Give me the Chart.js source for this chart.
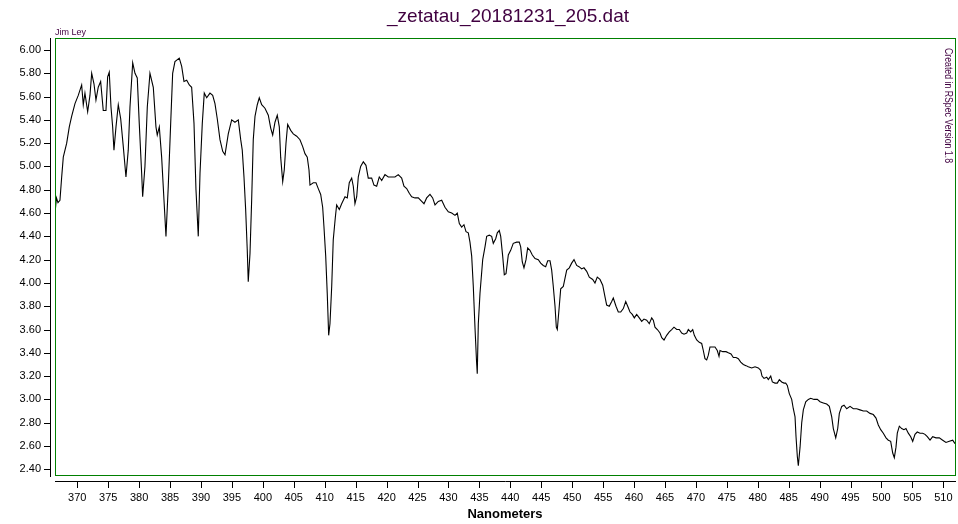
<!DOCTYPE html>
<html>
<head>
<meta charset="utf-8">
<title>_zetatau_20181231_205.dat</title>
<script src="https://cdn.jsdelivr.net/npm/chart.js@4/dist/chart.umd.min.js"></script>
<style>
  html, body { margin: 0; padding: 0; background: #fff; }
  #chart { display: block; }
</style>
</head>
<body>
<canvas id="chart" width="958" height="524"></canvas>
<script>
// --- Data ---
const chartTitle = '_zetatau_20181231_205.dat';
const xAxisTitle = 'Nanometers';
const authorText = 'Jim Ley';
const creditText = 'Created in RSpec Version 1.8';

const xTicks = [370, 375, 380, 385, 390, 395, 400, 405, 410, 415, 420, 425, 430, 435, 440,
    445, 450, 455, 460, 465, 470, 475, 480, 485, 490, 495, 500, 505, 510];
const yTicks = [2.4, 2.6, 2.8, 3.0, 3.2, 3.4, 3.6, 3.8, 4.0, 4.2, 4.4, 4.6, 4.8, 5.0, 5.2,
    5.4, 5.6, 5.8, 6.0];

const wavelengths = [
    366.40, 366.64, 366.88, 367.20, 367.48, 367.74, 368.29, 368.71, 369.09, 369.63,
    370.16, 370.71, 370.97, 371.24, 371.68, 372.05, 372.33, 372.70, 373.02, 373.39,
    373.78, 374.20, 374.64, 374.91, 375.17, 375.45, 375.72, 375.93, 376.26, 376.63,
    377.02, 377.44, 377.87, 378.24, 378.52, 378.96, 379.33, 379.70, 380.02, 380.41,
    380.57, 380.94, 381.32, 381.75, 382.29, 382.72, 382.93, 383.26, 383.64, 384.02,
    384.34, 384.71, 385.10, 385.42, 385.79, 386.49, 386.88, 387.25, 387.69, 388.11,
    388.49, 388.87, 389.19, 389.56, 389.84, 390.21, 390.53, 390.92, 391.45, 391.89,
    392.26, 392.63, 393.07, 393.51, 393.88, 394.41, 394.96, 395.49, 396.03, 396.42,
    396.67, 396.95, 397.22, 397.48, 397.64, 397.92, 398.19, 398.45, 398.73, 399.10,
    399.42, 399.81, 400.34, 400.88, 401.27, 401.59, 401.96, 402.33, 402.66, 402.88,
    403.21, 403.46, 403.74, 404.01, 404.50, 404.92, 405.47, 406.00, 406.44, 406.81,
    407.18, 407.46, 407.62, 408.15, 408.59, 408.96, 409.35, 409.67, 409.88, 410.16,
    410.41, 410.64, 410.85, 411.13, 411.38, 411.71, 411.93, 412.36, 412.74, 413.28,
    413.65, 413.97, 414.36, 414.62, 414.89, 415.17, 415.43, 415.81, 416.24, 416.67,
    417.04, 417.59, 417.96, 418.40, 418.82, 419.21, 419.74, 420.28, 420.83, 421.36,
    421.89, 422.44, 422.81, 423.25, 423.67, 424.06, 424.59, 425.13, 425.68, 426.05,
    426.48, 427.02, 427.45, 427.83, 428.36, 428.91, 429.44, 429.98, 430.53, 431.06,
    431.43, 431.76, 432.14, 432.51, 432.84, 433.21, 433.48, 433.76, 434.02, 434.29,
    434.53, 434.66, 434.83, 435.10, 435.54, 435.91, 436.18, 436.60, 436.99, 437.25,
    437.64, 437.90, 438.22, 438.45, 438.77, 439.03, 439.31, 439.68, 440.06, 440.48,
    441.03, 441.45, 441.68, 441.94, 442.21, 442.54, 442.81, 443.18, 443.56, 444.00,
    444.53, 444.91, 445.33, 445.72, 446.05, 446.42, 446.69, 446.95, 447.23, 447.44,
    447.60, 447.87, 448.15, 448.57, 448.84, 449.12, 449.54, 449.92, 450.30, 450.73,
    451.11, 451.54, 451.91, 452.35, 452.77, 453.32, 453.69, 454.06, 454.50, 454.94,
    455.31, 455.58, 456.00, 456.39, 456.65, 457.09, 457.46, 457.85, 458.27, 458.66,
    458.98, 459.35, 459.72, 460.05, 460.43, 460.85, 461.24, 461.61, 462.05, 462.47,
    462.86, 463.12, 463.39, 463.77, 464.20, 464.48, 464.85, 465.28, 465.70, 466.09,
    466.46, 466.90, 467.32, 467.71, 468.08, 468.52, 468.78, 469.16, 469.49, 469.75,
    470.13, 470.55, 470.94, 471.20, 471.47, 471.75, 472.01, 472.28, 472.72, 473.09,
    473.46, 473.74, 473.90, 474.34, 474.87, 475.24, 475.68, 476.05, 476.49, 476.86,
    477.25, 477.67, 478.10, 478.47, 479.02, 479.56, 480.09, 480.48, 480.69, 481.01,
    481.45, 481.71, 482.10, 482.36, 482.79, 483.16, 483.49, 483.87, 484.25, 484.52,
    484.78, 485.10, 485.49, 485.75, 486.03, 486.19, 486.40, 486.56, 486.84, 487.11,
    487.37, 487.76, 488.18, 488.56, 489.10, 489.63, 490.07, 490.60, 491.15, 491.57,
    491.96, 492.22, 492.61, 492.93, 493.19, 493.58, 493.95, 494.39, 494.92, 495.45,
    496.00, 496.53, 497.07, 497.61, 498.15, 498.68, 499.12, 499.49, 499.88, 500.30,
    500.74, 501.11, 501.49, 501.82, 502.08, 502.35, 502.56, 502.89, 503.27, 503.64,
    503.96, 504.34, 504.73, 505.05, 505.42, 505.79, 506.23, 506.67, 507.04, 507.41,
    507.85, 508.28, 508.82, 509.35, 509.90, 510.43, 510.97, 511.52, 511.89
];

const flux = [
    4.60, 4.73, 4.69, 4.71, 4.91, 5.08, 5.20, 5.34, 5.43, 5.54,
    5.61, 5.70, 5.53, 5.63, 5.47, 5.61, 5.80, 5.71, 5.57, 5.68,
    5.73, 5.48, 5.48, 5.77, 5.81, 5.51, 5.34, 5.14, 5.34, 5.53,
    5.41, 5.17, 4.91, 5.14, 5.51, 5.89, 5.80, 5.76, 5.37, 4.94,
    4.74, 5.00, 5.51, 5.80, 5.68, 5.34, 5.27, 5.34, 5.08, 4.71,
    4.40, 4.83, 5.37, 5.80, 5.90, 5.93, 5.86, 5.73, 5.74, 5.70,
    5.68, 5.37, 4.80, 4.40, 4.94, 5.37, 5.63, 5.59, 5.63, 5.61,
    5.54, 5.41, 5.23, 5.13, 5.10, 5.28, 5.40, 5.38, 5.40, 5.23,
    5.14, 4.91, 4.63, 4.28, 4.01, 4.25, 4.71, 5.23, 5.43, 5.53,
    5.59, 5.53, 5.50, 5.44, 5.33, 5.27, 5.38, 5.44, 5.34, 5.08,
    4.87, 4.97, 5.20, 5.36, 5.31, 5.28, 5.26, 5.23, 5.17, 5.11,
    5.08, 4.97, 4.84, 4.86, 4.86, 4.81, 4.76, 4.65, 4.48, 4.23,
    3.91, 3.55, 3.65, 3.97, 4.37, 4.56, 4.67, 4.63, 4.68, 4.74,
    4.73, 4.86, 4.90, 4.83, 4.68, 4.74, 4.91, 5.00, 5.04, 5.01,
    4.90, 4.90, 4.84, 4.83, 4.91, 4.88, 4.93, 4.91, 4.91, 4.91,
    4.93, 4.90, 4.83, 4.81, 4.77, 4.74, 4.73, 4.73, 4.70, 4.68,
    4.73, 4.76, 4.73, 4.67, 4.70, 4.71, 4.65, 4.61, 4.60, 4.58,
    4.60, 4.51, 4.48, 4.50, 4.44, 4.43, 4.35, 4.23, 3.97, 3.62,
    3.34, 3.22, 3.65, 3.91, 4.20, 4.31, 4.40, 4.41, 4.40, 4.34,
    4.38, 4.43, 4.45, 4.40, 4.23, 4.07, 4.08, 4.24, 4.28, 4.34,
    4.35, 4.35, 4.31, 4.18, 4.13, 4.20, 4.30, 4.28, 4.24, 4.21,
    4.20, 4.17, 4.15, 4.14, 4.19, 4.19, 4.11, 3.97, 3.80, 3.62,
    3.60, 3.77, 3.95, 3.97, 4.04, 4.11, 4.13, 4.17, 4.20, 4.15,
    4.14, 4.12, 4.13, 4.10, 4.05, 4.03, 4.00, 4.05, 4.03, 3.98,
    3.88, 3.81, 3.80, 3.84, 3.87, 3.80, 3.75, 3.75, 3.78, 3.84,
    3.80, 3.75, 3.73, 3.70, 3.73, 3.70, 3.67, 3.69, 3.68, 3.65,
    3.70, 3.68, 3.62, 3.60, 3.57, 3.53, 3.51, 3.55, 3.58, 3.60,
    3.62, 3.60, 3.60, 3.57, 3.56, 3.57, 3.60, 3.58, 3.60, 3.55,
    3.51, 3.49, 3.48, 3.42, 3.35, 3.34, 3.38, 3.45, 3.45, 3.45,
    3.42, 3.37, 3.42, 3.41, 3.41, 3.40, 3.39, 3.36, 3.36, 3.35,
    3.32, 3.30, 3.29, 3.28, 3.27, 3.28, 3.27, 3.25, 3.20, 3.18,
    3.19, 3.17, 3.20, 3.15, 3.14, 3.14, 3.17, 3.15, 3.14, 3.14,
    3.12, 3.05, 3.00, 2.92, 2.85, 2.68, 2.51, 2.43, 2.59, 2.80,
    2.91, 2.98, 3.00, 3.01, 3.00, 3.00, 2.98, 2.97, 2.96, 2.94,
    2.85, 2.75, 2.67, 2.75, 2.88, 2.94, 2.95, 2.92, 2.94, 2.92,
    2.92, 2.91, 2.90, 2.90, 2.88, 2.87, 2.84, 2.78, 2.74, 2.71,
    2.67, 2.65, 2.64, 2.54, 2.50, 2.59, 2.71, 2.77, 2.75, 2.74,
    2.75, 2.71, 2.68, 2.64, 2.70, 2.72, 2.71, 2.71, 2.70, 2.68,
    2.65, 2.68, 2.67, 2.67, 2.65, 2.63, 2.64, 2.65, 2.62
];

// --- Colours / fonts ---
const frameColor = '#008000';
const textPurple = '#400040';
const font = 'Arial, "Liberation Sans", sans-serif';

// Draws title, frame, offset axis lines, tick marks and side texts
const decorPlugin = {
    id: 'decor',
    afterDraw(chart) {
        const { ctx, chartArea: a, scales } = chart;
        const xs = scales.x, ys = scales.y;
        ctx.save();

        // green frame round the plot
        ctx.strokeStyle = frameColor;
        ctx.lineWidth = 1;
        ctx.strokeRect(a.left + 0.5, a.top + 0.5, a.right - a.left - 1, a.bottom - a.top);

        // axis lines sit a few px outside the frame
        ctx.strokeStyle = '#000';
        ctx.beginPath();
        ctx.moveTo(50.5, a.top);
        ctx.lineTo(50.5, a.bottom + 2);
        ctx.moveTo(a.left, a.bottom + 6.5);
        ctx.lineTo(a.right, a.bottom + 6.5);
        yTicks.forEach(v => {
            const py = Math.round(ys.getPixelForValue(v)) + 0.5;
            ctx.moveTo(44, py);
            ctx.lineTo(50.5, py);
        });
        xTicks.forEach(v => {
            const px = Math.round(xs.getPixelForValue(v)) + 0.5;
            ctx.moveTo(px, a.bottom + 6.5);
            ctx.lineTo(px, a.bottom + 13);
        });
        ctx.stroke();

        // title
        ctx.fillStyle = textPurple;
        ctx.font = '19px ' + font;
        ctx.textAlign = 'center';
        ctx.textBaseline = 'alphabetic';
        ctx.fillText(chartTitle, 508, 22);

        // author, top left
        ctx.font = '9px ' + font;
        ctx.textAlign = 'left';
        ctx.fillText(authorText, 55, 35);

        // axis title
        ctx.fillStyle = '#000';
        ctx.font = 'bold 13px ' + font;
        ctx.textAlign = 'center';
        ctx.fillText(xAxisTitle, 505, 518);

        // rotated credit text on the right, inside the frame
        ctx.fillStyle = textPurple;
        ctx.font = '10px ' + font;
        ctx.textAlign = 'left';
        const w = ctx.measureText(creditText).width;
        ctx.translate(945, 48);
        ctx.rotate(Math.PI / 2);
        ctx.scale(115 / w, 1);
        ctx.fillText(creditText, 0, 0);
        ctx.restore();
    }
};

const points = wavelengths.map((nm, i) => ({ x: nm, y: flux[i] }));

new Chart(document.getElementById('chart'), {
    type: 'line',
    data: {
        datasets: [{
            data: points,
            borderColor: '#000',
            borderWidth: 1.1,
            pointRadius: 0,
            tension: 0,
            fill: false
        }]
    },
    options: {
        responsive: false,
        animation: false,
        events: [],
        layout: { padding: { top: 38, right: 2, left: 0, bottom: 0 } },
        plugins: { legend: { display: false }, tooltip: { enabled: false }, title: { display: false } },
        scales: {
            x: {
                type: 'linear',
                min: 366.4,
                max: 512.05,
                afterFit: s => { s.height = 49; s.paddingLeft = 0; s.paddingRight = 0; },
                afterBuildTicks: s => { s.ticks = xTicks.map(v => ({ value: v })); },
                grid: { display: false, drawTicks: false },
                border: { display: false },
                ticks: {
                    padding: 16,
                    color: '#000',
                    font: { family: font, size: 11 },
                    maxRotation: 0,
                    autoSkip: false,
                    callback: v => String(v)
                }
            },
            y: {
                type: 'linear',
                min: 2.351,
                max: 6.103,
                afterFit: s => { s.width = 55; s.paddingTop = 0; s.paddingBottom = 0; },
                afterBuildTicks: s => { s.ticks = yTicks.map(v => ({ value: v })); },
                grid: { display: false, drawTicks: false },
                border: { display: false },
                ticks: {
                    padding: 14,
                    color: '#000',
                    font: { family: font, size: 11 },
                    autoSkip: false,
                    callback: v => Number(v).toFixed(2)
                }
            }
        }
    },
    plugins: [decorPlugin]
});
</script>
</body>
</html>
